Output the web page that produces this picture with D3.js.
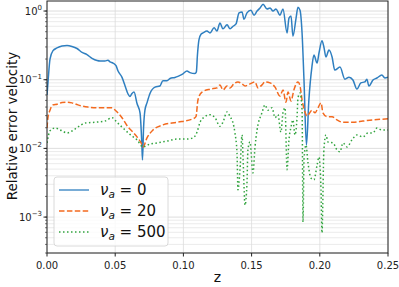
<!DOCTYPE html>
<html>
<head>
<meta charset="utf-8">
<script src="https://cdn.jsdelivr.net/npm/d3@7"></script>
<style>
  body { margin: 0; background: #fff; }
  text { font-family: "DejaVu Sans", sans-serif; }
</style>
</head>
<body>
<div id="chart"></div>
<script>
// z, relative error
const blue = [
  [0,0.06],[0.0007,0.09],[0.0022,0.2],[0.0044,0.265],[0.0073,0.29],[0.011,0.31],[0.0147,0.315],[0.0183,0.305],
  [0.022,0.285],[0.0257,0.25],[0.0293,0.232],[0.033,0.205],[0.0367,0.19],[0.0389,0.187],[0.0425,0.187],[0.0447,0.192],
  [0.0462,0.182],[0.0484,0.175],[0.0506,0.16],[0.052,0.135],[0.055,0.108],[0.0572,0.082],[0.0594,0.062],[0.0608,0.057],
  [0.0623,0.063],[0.0638,0.066],[0.066,0.045],[0.0682,0.033],[0.0695,0.012],[0.07,0.0068],[0.0708,0.02],[0.0718,0.036],
  [0.0733,0.046],[0.0755,0.063],[0.0792,0.078],[0.0828,0.081],[0.085,0.097],[0.088,0.097],[0.0902,0.104],[0.0938,0.108],
  [0.096,0.112],[0.0997,0.122],[0.1026,0.134],[0.1048,0.127],[0.1085,0.123],[0.1095,0.13],[0.1103,0.23],[0.1114,0.38],
  [0.1129,0.46],[0.1144,0.48],[0.1173,0.51],[0.1195,0.48],[0.1225,0.57],[0.1246,0.51],[0.1268,0.67],[0.129,0.55],
  [0.132,0.63],[0.1342,0.55],[0.1364,0.6],[0.1386,0.65],[0.1408,0.94],[0.143,0.97],[0.1444,0.76],[0.1466,0.94],
  [0.1495,1.03],[0.1518,0.87],[0.154,1.0],[0.1562,1.11],[0.1584,1.26],[0.1613,1.07],[0.1635,1.11],[0.1657,1.0],
  [0.1679,1.07],[0.1708,0.87],[0.173,1.07],[0.176,0.48],[0.1774,0.79],[0.1789,0.85],[0.1803,0.43],[0.1826,0.79],
  [0.184,1.14],[0.1855,1.03],[0.187,0.48],[0.1884,0.1],[0.1902,0.0112],[0.192,0.051],[0.1942,0.153],[0.1957,0.23],
  [0.198,0.175],[0.1994,0.245],[0.2016,0.37],[0.203,0.30],[0.2045,0.214],[0.2067,0.27],[0.209,0.214],[0.211,0.138],
  [0.2148,0.153],[0.2184,0.102],[0.2214,0.109],[0.2243,0.099],[0.2272,0.073],[0.2301,0.09],[0.233,0.093],[0.2345,0.102],
  [0.236,0.081],[0.239,0.099],[0.2419,0.106],[0.2455,0.117],[0.2477,0.106],[0.25,0.109]
];

const orange = [
  [0,0.0198],[0.0007,0.028],[0.0022,0.036],[0.0044,0.043],[0.0073,0.044],[0.011,0.0465],[0.0147,0.047],[0.0183,0.046],
  [0.0227,0.043],[0.03,0.040],[0.0374,0.039],[0.0477,0.039],[0.05,0.036],[0.055,0.028],[0.0594,0.0205],[0.063,0.0173],
  [0.066,0.0147],[0.069,0.012],[0.0704,0.0105],[0.0733,0.0142],[0.0777,0.0185],[0.085,0.022],[0.0953,0.024],[0.107,0.027],
  [0.1092,0.029],[0.1107,0.051],[0.1136,0.066],[0.1195,0.073],[0.1246,0.076],[0.1268,0.084],[0.129,0.071],[0.132,0.081],
  [0.1342,0.076],[0.137,0.087],[0.14,0.093],[0.143,0.087],[0.1452,0.081],[0.1488,0.087],[0.1525,0.093],[0.1547,0.076],
  [0.1576,0.084],[0.1598,0.093],[0.1635,0.090],[0.1672,0.078],[0.1708,0.058],[0.173,0.071],[0.1752,0.047],[0.1767,0.066],
  [0.1789,0.049],[0.181,0.071],[0.184,0.093],[0.1855,0.081],[0.187,0.051],[0.1891,0.034],[0.1906,0.0296],[0.1943,0.036],
  [0.1965,0.033],[0.1987,0.039],[0.2009,0.046],[0.2023,0.033],[0.2053,0.029],[0.209,0.029],[0.2126,0.026],[0.217,0.024],
  [0.2243,0.024],[0.2316,0.025],[0.239,0.026],[0.25,0.027]
];

const green = [
  [0,0.012],[0.0022,0.018],[0.0059,0.0198],[0.011,0.018],[0.0147,0.0168],[0.0183,0.0179],[0.0227,0.0205],[0.028,0.0234],
  [0.035,0.024],[0.0425,0.025],[0.0477,0.028],[0.0513,0.024],[0.0557,0.0198],[0.0608,0.016],[0.066,0.0133],[0.0704,0.0105],
  [0.0755,0.0116],[0.0807,0.012],[0.088,0.0128],[0.0953,0.0137],[0.1026,0.0137],[0.107,0.0142],[0.11,0.0173],[0.1122,0.024],
  [0.1158,0.029],[0.1195,0.031],[0.1232,0.028],[0.1268,0.021],[0.129,0.024],[0.132,0.034],[0.1342,0.029],[0.1364,0.0234],
  [0.1378,0.0168],[0.1393,0.0086],[0.14,0.0025],[0.1415,0.0049],[0.143,0.0157],[0.1437,0.0075],[0.1452,0.0015],[0.1466,0.0031],
  [0.1473,0.0095],[0.1488,0.0124],[0.151,0.0044],[0.1525,0.0105],[0.154,0.0185],[0.1576,0.033],[0.1598,0.043],[0.162,0.036],
  [0.165,0.039],[0.1672,0.028],[0.1693,0.031],[0.1715,0.0173],[0.173,0.033],[0.1745,0.039],[0.176,0.0049],[0.1774,0.0133],
  [0.1789,0.0205],[0.1803,0.026],[0.1818,0.0157],[0.1833,0.028],[0.184,0.054],[0.1855,0.064],[0.187,0.036],[0.1877,0.00085],
  [0.1884,0.0068],[0.1899,0.0112],[0.1913,0.0063],[0.1935,0.0037],[0.1957,0.0035],[0.198,0.0057],[0.1994,0.0075],[0.2009,0.0025],
  [0.2016,0.00059],[0.203,0.0095],[0.2045,0.0157],[0.206,0.0124],[0.2097,0.012],[0.2126,0.0095],[0.2148,0.0089],[0.217,0.012],
  [0.22,0.0105],[0.2236,0.0133],[0.2272,0.0157],[0.2316,0.0147],[0.2353,0.0168],[0.239,0.0168],[0.2419,0.0198],[0.2455,0.0185],
  [0.25,0.0185]
];

const xTicks = [0, 0.05, 0.10, 0.15, 0.20, 0.25];
const yTickExp = [0, -1, -2, -3];
const seriesNames = ["0", "20", "500"];

const margin = { top: 1, right: 11, bottom: 34, left: 47 },
      width = 399 - margin.left - margin.right,
      height = 287 - margin.top - margin.bottom;

const svg = d3.select("#chart").append("svg")
  .attr("width", 399)
  .attr("height", 287);

const g = svg.append("g")
  .attr("transform", `translate(${margin.left},${margin.top})`);

const x = d3.scaleLinear().domain([0, 0.25]).range([0, width]);
const y = d3.scaleLog().domain([3.0e-4, 1.40]).range([height, 0]);

// grid: minor + major horizontal, major vertical
const minorVals = [];
for (let e = -4; e <= 0; e++) {
  for (let m = 1; m <= 9; m++) {
    const v = m * Math.pow(10, e);
    if (v >= 3.0e-4 && v <= 1.40) minorVals.push(v);
  }
}
g.append("g").selectAll("line")
  .data(minorVals)
  .join("line")
  .attr("x1", 0).attr("x2", width)
  .attr("y1", d => y(d)).attr("y2", d => y(d))
  .attr("stroke", d => yTickExp.some(e => Math.abs(Math.log10(d) - e) < 1e-9) ? "#d6d6d6" : "#e6e6e6")
  .attr("stroke-width", 0.8);

g.append("g").selectAll("line")
  .data(xTicks)
  .join("line")
  .attr("x1", d => x(d)).attr("x2", d => x(d))
  .attr("y1", 0).attr("y2", height)
  .attr("stroke", "#dcdcdc")
  .attr("stroke-width", 0.8);

// curves
const line = d3.line()
  .x(d => x(d[0]))
  .y(d => y(d[1]))
  .curve(d3.curveMonotoneX);

g.append("clipPath").attr("id", "clip")
  .append("rect").attr("width", width).attr("height", height);

const plot = g.append("g").attr("clip-path", "url(#clip)");

const styles = [
  { data: blue, color: "#2f7fc0", dash: null },
  { data: orange, color: "#f36a1f", dash: "5.5,2.4" },
  { data: green, color: "#32a43f", dash: "1.5,2.5" }
];

styles.forEach(s => {
  plot.append("path")
    .datum(s.data)
    .attr("fill", "none")
    .attr("stroke", s.color)
    .attr("stroke-width", 1.5)
    .attr("stroke-dasharray", s.dash)
    .attr("d", line);
});

// axes frame
g.append("rect")
  .attr("width", width).attr("height", height)
  .attr("fill", "none").attr("stroke", "#222").attr("stroke-width", 1);

// x axis
const xAxis = g.append("g").attr("transform", `translate(0,${height})`);
xAxis.selectAll("line")
  .data(xTicks)
  .join("line")
  .attr("x1", d => x(d)).attr("x2", d => x(d))
  .attr("y1", 0).attr("y2", 3.5)
  .attr("stroke", "#222");
xAxis.selectAll("text")
  .data(xTicks)
  .join("text")
  .attr("x", d => x(d))
  .attr("y", 15.5)
  .attr("text-anchor", "middle")
  .style("font-size", "10px")
  .attr("fill", "#222")
  .text(d => d3.format(".2f")(d));

// y axis ticks
const yAxis = g.append("g");
yAxis.selectAll("line.minor")
  .data(minorVals)
  .join("line")
  .attr("class", "minor")
  .attr("x1", -2).attr("x2", 0)
  .attr("y1", d => y(d)).attr("y2", d => y(d))
  .attr("stroke", "#222").attr("stroke-width", 0.6);
yAxis.selectAll("line.major")
  .data(yTickExp)
  .join("line")
  .attr("class", "major")
  .attr("x1", -3.5).attr("x2", 0)
  .attr("y1", d => y(Math.pow(10, d))).attr("y2", d => y(Math.pow(10, d)))
  .attr("stroke", "#222");

const yLabels = yAxis.selectAll("text")
  .data(yTickExp)
  .join("text")
  .attr("x", -5)
  .attr("y", d => y(Math.pow(10, d)) + 3.5)
  .attr("text-anchor", "end")
  .style("font-size", "10px")
  .attr("fill", "#222");
yLabels.append("tspan").text("10");
yLabels.append("tspan")
  .attr("dy", -4.5)
  .style("font-size", "7px")
  .text(d => d === 0 ? "0" : "\u2212" + Math.abs(d));

// axis labels
svg.append("text")
  .attr("x", margin.left + width / 2)
  .attr("y", 282)
  .attr("text-anchor", "middle")
  .style("font-size", "14px")
  .attr("fill", "#111")
  .text("z");

svg.append("text")
  .attr("transform", `translate(17,${margin.top + 125}) rotate(-90)`)
  .attr("text-anchor", "middle")
  .style("font-size", "13.5px")
  .attr("fill", "#111")
  .text("Relative error velocity");

// legend
const legend = svg.append("g").attr("transform", "translate(54,177)");
legend.append("rect")
  .attr("width", 114).attr("height", 69)
  .attr("rx", 3)
  .attr("fill", "rgba(255,255,255,0.8)")
  .attr("stroke", "#d0d0d0")
  .attr("stroke-width", 0.8);

styles.forEach((s, i) => {
  const ry = 13 + i * 21;
  legend.append("line")
    .attr("x1", 5).attr("x2", 35)
    .attr("y1", ry).attr("y2", ry)
    .attr("stroke", s.color)
    .attr("stroke-width", 1.3)
    .attr("stroke-dasharray", s.dash);
  const t = legend.append("text")
    .attr("x", 46)
    .attr("y", ry + 5)
    .style("font-size", "15px")
    .attr("fill", "#111");
  t.append("tspan").style("font-style", "italic").text("\u03bd");
  t.append("tspan").style("font-style", "italic").style("font-size", "10.5px").attr("dy", 3).text("a");
  t.append("tspan").attr("dy", -3).text(" = " + seriesNames[i]);
});
</script>
</body>
</html>
